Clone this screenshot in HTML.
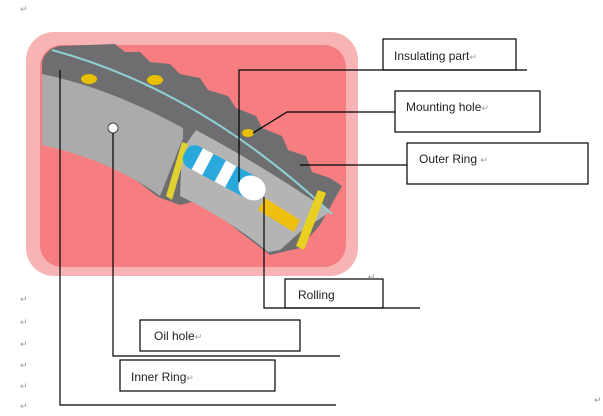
<!DOCTYPE html>
<html><head><meta charset="utf-8"><style>
html,body{margin:0;padding:0;background:#fff;width:603px;height:416px;overflow:hidden}
svg{display:block}
text{font-family:"Liberation Sans",sans-serif;font-size:12px;fill:#222}
.m{font-size:9px;fill:#999}
</style></head><body>
<svg width="603" height="416" viewBox="0 0 603 416">
<rect x="26" y="32" width="332" height="244" rx="28" fill="#f8b4b4"/>
<rect x="40" y="45" width="306" height="222" rx="22" fill="#f77e80"/>
<path d="M42 62 Q46 48 60 46 L115 44 L125 52 L140 52 L150 62 L170 64 L180 74 L200 78 L208 90 L228 96 L236 108 L256 116 L262 128 L282 136 L288 150 L306 156 L312 172 L330 178 L342 186 L320 225 L300 248 L270 255 L240 232 L200 200 L180 205 L158 197 L120 168 L80 152 L42 145 Z" fill="#6e6e70"/>
<path d="M42 74 Q110 88 183 128 L183 138 L160 196 Q110 160 42 145 Z" fill="#ababab"/>
<path d="M196 130 Q270 170 330 212 L300 232 L280 250 L268 252 Q230 220 180 196 L182 150 Z" fill="#b4b4b4"/>
<path d="M52 50 Q200 90 332 214" stroke="#8fcfd4" stroke-width="2" fill="none"/>
<ellipse cx="89" cy="79" rx="8" ry="5" fill="#e8c000"/>
<ellipse cx="155" cy="80" rx="8" ry="5" fill="#e8c000"/>
<ellipse cx="248" cy="133" rx="6" ry="4" fill="#e8c000"/>
<path d="M166 196 L182 142 L188 144 L172 200 Z" fill="#e0d030"/>
<path d="M296 246 L318 190 L326 193 L304 250 Z" fill="#e8d020"/>
<path d="M265 198 L300 220 L294 232 L258 210 Z" fill="#f0c010"/>
<g transform="rotate(28 222 172)">
<rect x="180" y="160" width="86" height="24" rx="10" fill="#29a8dc"/>
<rect x="194" y="160" width="12" height="24" fill="#fff"/>
<rect x="220" y="160" width="12" height="24" fill="#fff"/>
<ellipse cx="256" cy="172" rx="14" ry="12" fill="#fff"/>
</g>
<circle cx="113" cy="128" r="5" fill="#fff" stroke="#444"/>
<g stroke="#000" stroke-width="1.2" fill="none">
<polyline points="60,70 60,405 336,405"/>
<polyline points="113,133 113,356 340,356"/>
<polyline points="264,197 264,308 420,308"/>
<polyline points="239,182 239,70 527,70"/>
<polyline points="253,133 287,112 395,112"/>
<polyline points="300,165 407,165"/>
<rect x="383" y="39" width="133" height="31"/>
<rect x="395" y="91" width="145" height="41"/>
<rect x="407" y="143" width="181" height="41"/>
<rect x="285" y="279" width="98" height="29"/>
<rect x="140" y="320" width="160" height="31"/>
<rect x="120" y="360" width="155" height="31"/>
</g>
<text x="394" y="60">Insulating part<tspan class="m">↵</tspan></text>
<text x="406" y="111">Mounting hole<tspan class="m">↵</tspan></text>
<text x="419" y="163">Outer Ring <tspan class="m">↵</tspan></text>
<text x="298" y="299">Rolling</text>
<text x="154" y="340">Oil hole<tspan class="m">↵</tspan></text>
<text x="131" y="381">Inner Ring<tspan class="m">↵</tspan></text>
<text class="m" x="20" y="12">↵</text>
<text class="m" x="368" y="280">↵</text>
<text class="m" x="20" y="302">↵</text>
<text class="m" x="20" y="325">↵</text>
<text class="m" x="20" y="347">↵</text>
<text class="m" x="20" y="368">↵</text>
<text class="m" x="20" y="389">↵</text>
<text class="m" x="20" y="409">↵</text>
<text class="m" x="594" y="403">↵</text>
</svg>
</body></html>
